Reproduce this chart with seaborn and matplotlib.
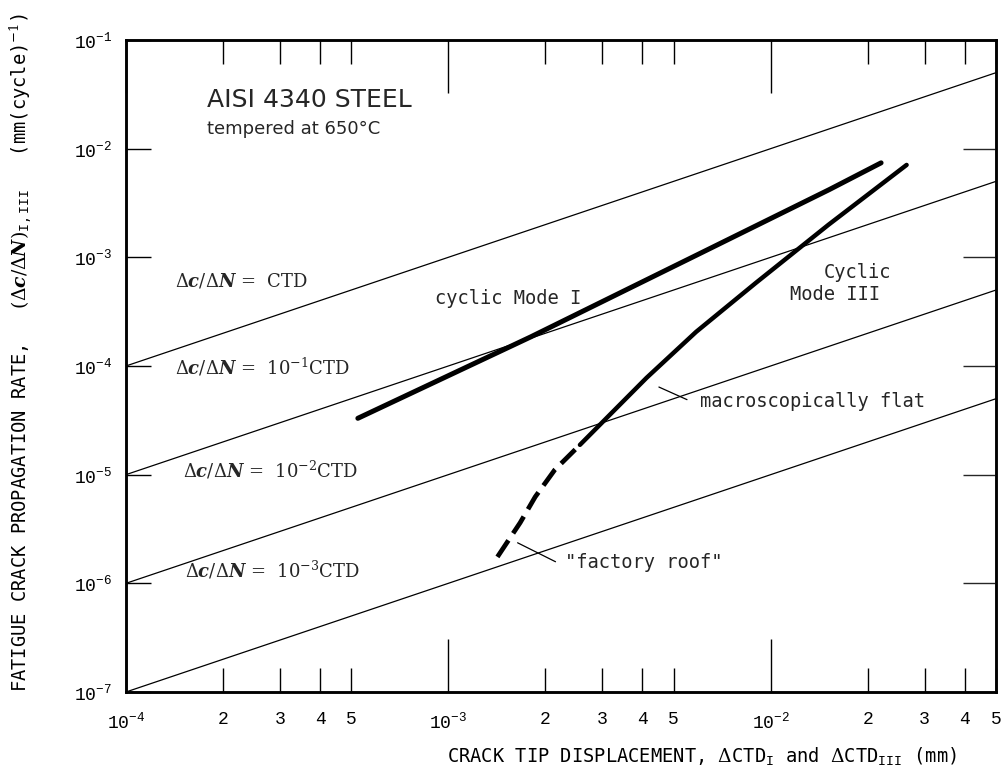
"""
Fatigue crack growth rate vs crack tip displacement, AISI 4340 steel
"""

import matplotlib
matplotlib.use("Agg")
import matplotlib.pyplot as plt
import seaborn as sns
from matplotlib.ticker import FixedLocator, FixedFormatter, NullLocator

# axis ranges (mm, mm/cycle)
ctd_limits = [1e-4, 5e-2]
rate_limits = [1e-7, 1e-1]

# reference lines dc/dN = k * CTD, k = 1, 1e-1, 1e-2, 1e-3
ref_ctd = [1e-4, 5e-2]
ref_rate_start = [1e-4, 1e-5, 1e-6, 1e-7]
ref_rate_end = [5e-2, 5e-3, 5e-4, 5e-5]

# cyclic Mode I
mode1_ctd = [5.24e-4, 1.8e-3, 5.9e-3, 1.52e-2, 2.2e-2]
mode1_rate = [3.3e-5, 1.85e-4, 1.05e-3, 4.2e-3, 7.4e-3]

# cyclic Mode III, macroscopically flat (solid)
mode3_ctd = [2.56e-3, 3.10e-3, 4.12e-3, 5.87e-3, 8.99e-3, 1.51e-2, 2.64e-2]
mode3_rate = [1.88e-5, 3.33e-5, 7.78e-5, 2.06e-4, 5.81e-4, 1.99e-3, 7.08e-3]

# cyclic Mode III, "factory roof" (dashed)
roof_ctd = [1.42e-3, 1.67e-3, 1.86e-3, 2.14e-3, 2.56e-3]
roof_rate = [1.75e-6, 3.61e-6, 6.25e-6, 1.11e-5, 1.88e-5]

# leader lines for the two Mode III labels
flat_leader_ctd = [4.5e-3, 5.5e-3]
flat_leader_rate = [6.4e-5, 4.9e-5]
roof_leader_ctd = [1.64e-3, 2.15e-3]
roof_leader_rate = [2.36e-6, 1.58e-6]

x_major = [1e-4, 1e-3, 1e-2]
x_major_labels = [r"$\mathregular{10^{-4}}$", r"$\mathregular{10^{-3}}$",
                  r"$\mathregular{10^{-2}}$"]
x_minor_subs = [2, 3, 4, 5]
y_major = [1e-7, 1e-6, 1e-5, 1e-4, 1e-3, 1e-2, 1e-1]
y_major_labels = [r"$\mathregular{10^{%d}}$" % e for e in range(-7, 0)]

dcdn = r"$\Delta\mathbfit{c}/\Delta\mathbfit{N}$"
ref_labels = [dcdn + " =  CTD",
              dcdn + r" =  10$^{-1}$CTD",
              dcdn + r" =  10$^{-2}$CTD",
              dcdn + r" =  10$^{-3}$CTD"]
ref_label_pos = [(0.056, 0.631), (0.056, 0.498), (0.066, 0.340), (0.068, 0.187)]

sns.set_theme(style="white")
plt.rcParams["font.family"] = ["DejaVu Sans Mono", "DejaVu Sans"]
plt.rcParams["mathtext.fontset"] = "dejavuserif"

fig = plt.figure(figsize=(10.07, 7.73), dpi=100)
ax = fig.add_axes([0.1251, 0.1048, 0.8640, 0.8435])

for r0, r1 in zip(ref_rate_start, ref_rate_end):
    sns.lineplot(x=ref_ctd, y=[r0, r1], ax=ax, color="black", lw=0.9,
                 estimator=None, sort=False)

sns.lineplot(x=mode1_ctd, y=mode1_rate, ax=ax, color="black", lw=3.6,
             estimator=None, sort=False, solid_capstyle="round")
sns.lineplot(x=mode3_ctd, y=mode3_rate, ax=ax, color="black", lw=3.2,
             estimator=None, sort=False, solid_capstyle="round",
             solid_joinstyle="round")
sns.lineplot(x=roof_ctd, y=roof_rate, ax=ax, color="black", lw=3.4,
             estimator=None, sort=False, linestyle=(0, (4.2, 1.8)))
sns.lineplot(x=flat_leader_ctd, y=flat_leader_rate, ax=ax, color="black",
             lw=0.9, estimator=None, sort=False)
sns.lineplot(x=roof_leader_ctd, y=roof_leader_rate, ax=ax, color="black",
             lw=0.9, estimator=None, sort=False)

ax.set_xscale("log")
ax.set_yscale("log")
ax.set_xlim(ctd_limits)
ax.set_ylim(rate_limits)

# ticks
x_minor = [s * m for m in x_major for s in x_minor_subs]
ax.xaxis.set_major_locator(FixedLocator(x_major))
ax.xaxis.set_major_formatter(FixedFormatter(x_major_labels))
ax.xaxis.set_minor_locator(FixedLocator(x_minor))
ax.xaxis.set_minor_formatter(FixedFormatter([str(s) for m in x_major for s in x_minor_subs]))
ax.yaxis.set_major_locator(FixedLocator(y_major))
ax.yaxis.set_major_formatter(FixedFormatter(y_major_labels))
ax.yaxis.set_minor_locator(NullLocator())

ax.tick_params(axis="x", which="major", direction="in", top=True, bottom=True,
               length=38, width=1.0, pad=14, labelsize=13, colors="black")
ax.tick_params(axis="x", which="minor", direction="in", top=True, bottom=True,
               length=17, width=1.0, pad=14, labelsize=13, colors="black")
ax.tick_params(axis="y", which="major", direction="in", left=True, right=False,
               length=18, width=1.0, pad=10, labelsize=13, colors="black")
for lab in ax.get_xticklabels(which="both") + ax.get_yticklabels():
    lab.set_fontfamily(["Liberation Mono", "DejaVu Sans Mono"])

axr = ax.twinx()
axr.set_yscale("log")
axr.set_ylim(rate_limits)
axr.yaxis.set_major_locator(FixedLocator(y_major))
axr.yaxis.set_minor_locator(NullLocator())
axr.tick_params(axis="y", direction="in", length=24, width=1.0, labelright=False)
axr.grid(False)

for sp in list(ax.spines.values()) + list(axr.spines.values()):
    sp.set_linewidth(1.8)
    sp.set_color("black")

# labels
ax.set_ylabel(r"FATIGUE CRACK PROPAGATION RATE,   $(\Delta\mathbfit{c}/\Delta\mathbfit{N})_{\mathregular{I,III}}$"
              r"   (mm(cycle)$^{-1}$)", fontsize=13.5, color="black")
ax.yaxis.set_label_coords(-0.106, 0.521)
ax.set_xlabel(r"CRACK TIP DISPLACEMENT, $\Delta$CTD$_{\mathregular{I}}$ and "
              r"$\Delta$CTD$_{\mathregular{III}}$ (mm)", fontsize=13.5, color="black")
ax.xaxis.set_label_coords(0.662, -0.082)

ax.text(0.093, 0.908, "AISI 4340 STEEL", transform=ax.transAxes, fontsize=18,
        va="center", ha="left", family=["DejaVu Sans", "DejaVu Sans Mono"])
ax.text(0.093, 0.863, "tempered at 650°C", transform=ax.transAxes, fontsize=13,
        va="center", ha="left", family=["DejaVu Sans"])
for txt, (tx, ty) in zip(ref_labels, ref_label_pos):
    ax.text(tx, ty, txt, transform=ax.transAxes, fontsize=13, va="center",
            ha="left", family=["DejaVu Serif"])
ax.text(0.355, 0.604, "cyclic Mode I", transform=ax.transAxes, fontsize=13.5,
        va="center", ha="left")
ax.text(0.880, 0.644, "Cyclic", transform=ax.transAxes, fontsize=13.5,
        va="center", ha="right")
ax.text(0.867, 0.609, "Mode III", transform=ax.transAxes, fontsize=13.5,
        va="center", ha="right")
ax.text(0.660, 0.445, "macroscopically flat", transform=ax.transAxes,
        fontsize=13.5, va="center", ha="left")
ax.text(0.505, 0.198, '"factory roof"', transform=ax.transAxes, fontsize=13.5,
        va="center", ha="left")

fig.savefig("out.png", dpi=100)
